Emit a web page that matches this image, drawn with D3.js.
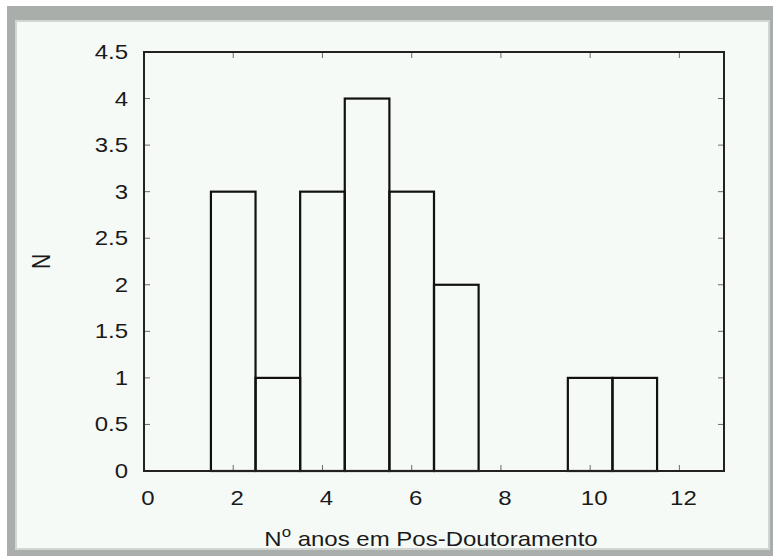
<!DOCTYPE html>
<html>
<head>
<meta charset="utf-8">
<script src="https://cdn.jsdelivr.net/npm/d3@7"></script>
<style>
html,body{margin:0;padding:0;background:#ffffff;}
svg{display:block;}
text{font-family:"Liberation Sans",Arial,Helvetica,sans-serif;fill:#1a1a1a;}
</style>
</head>
<body>
<svg id="chart" width="773" height="556"></svg>
<script>
// Data
const years = [2, 3, 4, 5, 6, 7, 8, 9, 10, 11];
const counts = [3, 1, 3, 4, 3, 2, 0, 0, 1, 1];
const xTicks = [0, 2, 4, 6, 8, 10, 12];
const yTicks = [0, 0.5, 1, 1.5, 2, 2.5, 3, 3.5, 4, 4.5];
const xLabel = "anos em Pos-Doutoramento";
const yLabel = "N";

const W = 773, H = 556;
const SX = 1.2; // horizontal stretch of the text
const svg = d3.select("#chart");

// frame
svg.append("rect").attr("x", 7).attr("y", 6).attr("width", W - 7).attr("height", H - 6).attr("fill", "#a9aeaa");
svg.append("rect").attr("x", 15).attr("y", 20).attr("width", 755).attr("height", 530).attr("fill", "#d2d6d2");
svg.append("rect").attr("x", 17).attr("y", 22).attr("width", 751).attr("height", 526).attr("fill", "#f6faf7");

const m = {left: 144, right: 724, top: 52, bottom: 471};
const x = d3.scaleLinear().domain([0, 13]).range([m.left, m.right]);
const y = d3.scaleLinear().domain([0, 4.5]).range([m.bottom, m.top]);

const g = svg.append("g");

// inward ticks
const tickLen = 6;
const tickColor = "#6a6a6a";
xTicks.forEach(t => {
  g.append("line").attr("x1", x(t)).attr("x2", x(t)).attr("y1", y(0)).attr("y2", y(0) - tickLen)
    .attr("stroke", tickColor).attr("stroke-width", 1);
  g.append("line").attr("x1", x(t)).attr("x2", x(t)).attr("y1", y(4.5)).attr("y2", y(4.5) + tickLen)
    .attr("stroke", tickColor).attr("stroke-width", 1);
});
yTicks.forEach(t => {
  g.append("line").attr("x1", x(0)).attr("x2", x(0) + tickLen).attr("y1", y(t)).attr("y2", y(t))
    .attr("stroke", tickColor).attr("stroke-width", 1);
  g.append("line").attr("x1", x(13)).attr("x2", x(13) - tickLen).attr("y1", y(t)).attr("y2", y(t))
    .attr("stroke", tickColor).attr("stroke-width", 1);
});

// bars
g.selectAll("rect.bar").data(years).enter().append("rect")
  .attr("class", "bar")
  .attr("x", d => x(d - 0.5))
  .attr("width", d => x(d + 0.5) - x(d - 0.5))
  .attr("y", (d, i) => y(counts[i]))
  .attr("height", (d, i) => y(0) - y(counts[i]))
  .attr("fill", "none")
  .attr("stroke", "#111")
  .attr("stroke-width", 2.2);

// axis box
g.append("rect").attr("x", m.left).attr("y", m.top)
  .attr("width", m.right - m.left).attr("height", m.bottom - m.top)
  .attr("fill", "none").attr("stroke", "#222").attr("stroke-width", 2);

// tick labels
g.selectAll("text.xt").data(xTicks).enter().append("text")
  .attr("class", "xt")
  .attr("transform", d => `translate(${x(d) + 4},505) scale(${SX},1)`)
  .attr("text-anchor", "middle")
  .attr("font-size", 20)
  .text(d => d);

g.selectAll("text.yt").data(yTicks).enter().append("text")
  .attr("class", "yt")
  .attr("transform", d => `translate(128,${y(d) + 7}) scale(${SX},1)`)
  .attr("text-anchor", "end")
  .attr("font-size", 20)
  .text(d => d);

// x label
const xl = svg.append("text")
  .attr("transform", `translate(${(m.left + m.right) / 2 - 3},546) scale(${SX},1)`)
  .attr("text-anchor", "middle")
  .attr("font-size", 20);
xl.append("tspan").text("N");
xl.append("tspan").attr("dy", -9).attr("font-size", 14).text("o");
xl.append("tspan").attr("dy", 9).text(" " + xLabel);

// y label
svg.append("text")
  .attr("transform", `translate(50,${(m.top + m.bottom) / 2}) scale(${SX},1) rotate(-90)`)
  .attr("text-anchor", "middle")
  .attr("font-size", 21)
  .text(yLabel);
</script>
</body>
</html>
